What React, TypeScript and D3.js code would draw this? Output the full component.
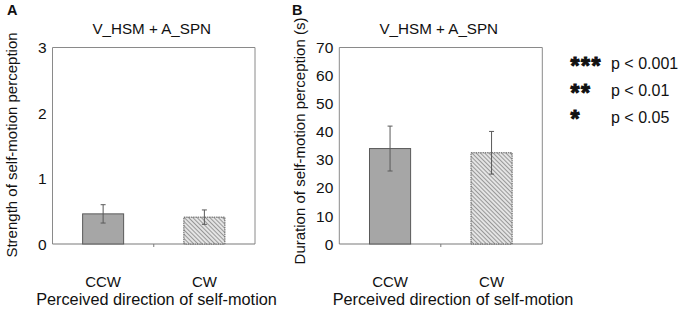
import React from 'react';
import * as d3 from 'd3';

const categories = ['CCW', 'CW'];
const strengthMeans = [0.46, 0.41];
const strengthErrors = [0.14, 0.11];
const durationMeans = [34, 32.5];
const durationErrors = [8, 7.6];
const strengthTicks = [0, 1, 2, 3];
const durationTicks = [0, 10, 20, 30, 40, 50, 60, 70];
const panelTitle = 'V_HSM + A_SPN';
const xAxisTitle = 'Perceived direction of self-motion';
const legendStars = ['***', '**', '*'];
const legendLabels = ['p < 0.001', 'p < 0.01', 'p < 0.05'];

const FONT = 'Liberation Sans, Arial, Helvetica, sans-serif';
const TOP = 47.5;
const BOTTOM = 244;

type PanelProps = {
  letter: string;
  letterX: number;
  left: number;
  right: number;
  max: number;
  ticks: number[];
  means: number[];
  errors: number[];
  yTitle: string;
  yTitleX: number;
  yTitleY: number;
  xTitleX: number;
};

function Panel(p: PanelProps) {
  const x = d3.scaleBand<string>().domain(categories).range([p.left, p.right]);
  const y = d3.scaleLinear().domain([0, p.max]).range([BOTTOM, TOP]);
  const bw = x.bandwidth() * 0.405;
  const mid = (p.left + p.right) / 2;
  return (
    <g fontFamily={FONT} fill="#111">
      <text x={p.letterX} y={14.5} fontSize={14.5} fontWeight="bold">{p.letter}</text>
      <text x={mid - 2} y={33.5} fontSize={15.2} textAnchor="middle">{panelTitle}</text>
      <path
        d={`M${p.left},${BOTTOM} V${TOP} H${p.right} V${BOTTOM}`}
        fill="none"
        stroke="#8a8a8a"
        strokeWidth={1}
      />
      <line x1={p.left} x2={p.right} y1={BOTTOM} y2={BOTTOM} stroke="#7a7a7a" strokeWidth={1.2} />
      <line x1={mid} x2={mid} y1={BOTTOM} y2={BOTTOM + 3} stroke="#7a7a7a" strokeWidth={1} />
      {p.ticks.map((t) => (
        <text key={t} x={p.left - 6} y={y(t)} dy="0.36em" fontSize={15.5} textAnchor="end">
          {t}
        </text>
      ))}
      {categories.map((c, i) => {
        const cx = (x(c) as number) + x.bandwidth() / 2;
        const top = y(p.means[i]);
        const hi = y(p.means[i] + p.errors[i]);
        const lo = y(p.means[i] - p.errors[i]);
        return (
          <g key={c}>
            <rect
              x={cx - bw / 2}
              y={top}
              width={bw}
              height={BOTTOM - top}
              fill={i === 0 ? '#a6a6a6' : 'url(#hatch)'}
              stroke="#5a5a5a"
              strokeWidth={1}
              strokeDasharray={i === 0 ? undefined : '1.5,0.8'}
            />
            <line x1={cx} x2={cx} y1={hi} y2={lo} stroke="#5a5a5a" strokeWidth={1} />
            <line x1={cx - 2.5} x2={cx + 2.5} y1={hi} y2={hi} stroke="#5a5a5a" strokeWidth={1} />
            <line x1={cx - 2.5} x2={cx + 2.5} y1={lo} y2={lo} stroke="#5a5a5a" strokeWidth={1} />
            <text x={cx} y={287} fontSize={15} textAnchor="middle">{c}</text>
          </g>
        );
      })}
      <text
        transform={`translate(${p.yTitleX},${p.yTitleY}) rotate(-90)`}
        fontSize={15}
        textAnchor="middle"
        dy="0.35em"
      >
        {p.yTitle}
      </text>
      <text x={p.xTitleX} y={305} fontSize={16.3} textAnchor="middle">{xAxisTitle}</text>
    </g>
  );
}

export default function App() {
  return (
    <svg
      width={680}
      height={313}
      style={{ position: 'absolute', left: 0, top: 0, background: '#fff' }}
    >
      <defs>
        <pattern id="hatch" width={3} height={3} patternUnits="userSpaceOnUse" patternTransform="rotate(-45)">
          <rect width={3} height={3} fill="#e4e4e4" />
          <line x1={0} y1={0} x2={0} y2={3} stroke="#6e6e6e" strokeWidth={1.3} />
        </pattern>
      </defs>
      <rect width={680} height={313} fill="#fff" />
      <Panel
        letter="A"
        letterX={7}
        left={52.5}
        right={255}
        max={3}
        ticks={strengthTicks}
        means={strengthMeans}
        errors={strengthErrors}
        yTitle="Strength of self-motion perception"
        yTitleX={12}
        yTitleY={145}
        xTitleX={156.5}
      />
      <Panel
        letter="B"
        letterX={292}
        left={339.3}
        right={542.3}
        max={70}
        ticks={durationTicks}
        means={durationMeans}
        errors={durationErrors}
        yTitle="Duration of self-motion perception (s)"
        yTitleX={300}
        yTitleY={141}
        xTitleX={453}
      />
      <g fontFamily={FONT} fill="#111">
        {legendStars.map((s, i) => (
          <g key={s}>
            <text
              x={570.5}
              y={63.7 + i * 26.7}
              dy="0.44em"
              fontSize={23}
              fontWeight="bold"
              letterSpacing={1.6}
              stroke="#111"
              strokeWidth={1}
            >
              {s}
            </text>
            <text x={611} y={63.7 + i * 26.7} dy="0.36em" fontSize={16}>{legendLabels[i]}</text>
          </g>
        ))}
      </g>
    </svg>
  );
}
